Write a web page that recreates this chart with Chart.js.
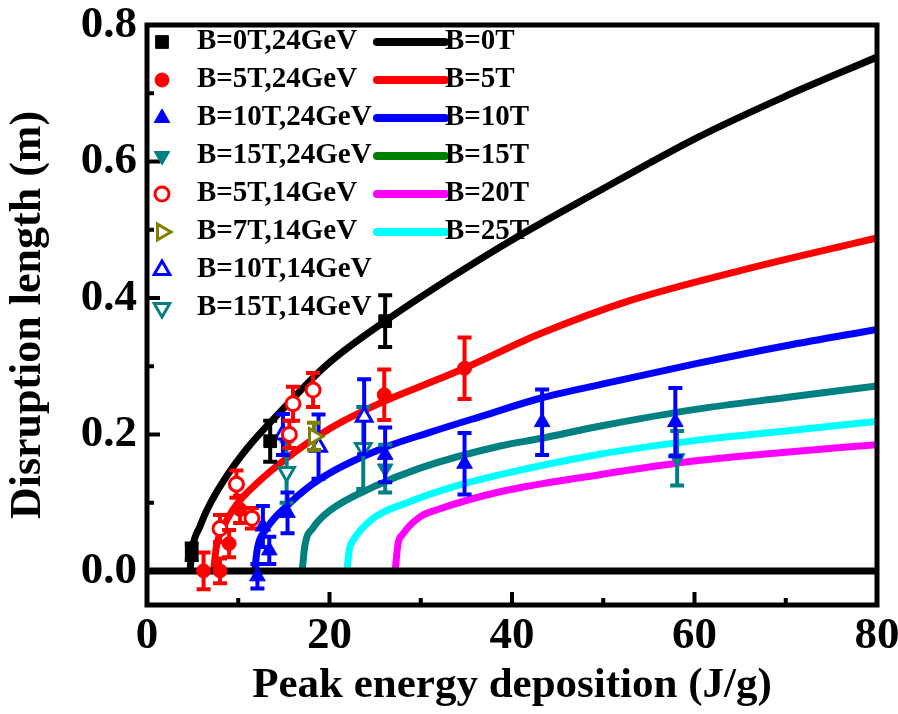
<!DOCTYPE html>
<html>
<head>
<meta charset="utf-8">
<script src="https://cdn.jsdelivr.net/npm/chart.js@4.4.0/dist/chart.umd.min.js"></script>
<style>
  html, body { margin: 0; padding: 0; background: #fff; }
  #wrap { width: 898px; height: 714px; }
</style>
</head>
<body>
<div id="wrap"><canvas id="c" width="898" height="714"></canvas></div>
<script>
// ---- measured disruption lengths (E in J/g, L in m, d = error) ----
const e0T24 = [4.9, 13.5, 26.1];
const l0T24 = [0.028, 0.19, 0.366];
const d0T24 = [0.012, 0.03, 0.038];

const e5T24 = [6.2, 8.0, 9.0, 10.2, 26.0, 34.8];
const l5T24 = [0.0, 0.0, 0.04, 0.09, 0.258, 0.297];
const d5T24 = [0.027, 0.018, 0.02, 0.02, 0.037, 0.045];

const e10T24 = [12.1, 12.7, 13.4, 15.4, 26.1, 34.8, 43.3, 57.9];
const l10T24 = [-0.008, 0.065, 0.03, 0.085, 0.17, 0.157, 0.218, 0.218];
const d10T24 = [0.018, 0.03, 0.02, 0.03, 0.04, 0.045, 0.048, 0.05];

const e15T24 = [26.1, 58.1];
const l15T24 = [0.15, 0.165];
const d15T24 = [0.035, 0.04];

const e5T14 = [8.0, 9.8, 11.5, 15.6, 16.0, 18.2];
const l5T14 = [0.062, 0.127, 0.077, 0.2, 0.245, 0.265];
const d5T14 = [0.02, 0.02, 0.015, 0.02, 0.025, 0.025];

const e7T14 = [18.3];
const l7T14 = [0.197];
const d7T14 = [0.02];

const e10T14 = [14.9, 18.8, 23.8];
const l10T14 = [0.2, 0.182, 0.226];
const d10T14 = [0.03, 0.047, 0.055];

const e15T14 = [15.3, 23.7];
const l15T14 = [0.145, 0.18];
const d15T14 = [0.045, 0.06];

// ---- model curves for each field strength ----
const c0E = [4.7, 5.0, 5.8, 6.6, 8.3, 11.0, 14.6, 19.7, 26.1, 33.2, 40.0, 48.5, 60.3, 69.7, 80.0];
const c0L = [0.0, 0.035, 0.065, 0.09, 0.13, 0.18, 0.233, 0.302, 0.366, 0.429, 0.485, 0.549, 0.635, 0.694, 0.753];

const c5E = [7.3, 7.6, 8.5, 9.8, 11.3, 15.3, 20.1, 25.9, 31.0, 34.8, 43.0, 52.9, 65.0, 80.0];
const c5L = [0.0, 0.035, 0.068, 0.097, 0.119, 0.165, 0.209, 0.248, 0.276, 0.297, 0.347, 0.396, 0.44, 0.488];

const c10E = [11.8, 12.1, 13.0, 15.7, 19.0, 25.9, 31.0, 37.0, 43.1, 50.0, 60.3, 70.0, 80.0];
const c10L = [0.0, 0.033, 0.06, 0.10, 0.135, 0.18, 0.203, 0.228, 0.253, 0.274, 0.304, 0.33, 0.354];

const c15E = [17.0, 17.3, 18.2, 20.0, 24.8, 30.0, 38.7, 43.1, 50.0, 60.3, 70.0, 80.0];
const c15L = [0.0, 0.037, 0.063, 0.088, 0.123, 0.151, 0.183, 0.194, 0.213, 0.237, 0.254, 0.271];

const c20E = [27.2, 27.5, 28.0, 29.9, 32.1, 38.7, 49.6, 60.6, 70.0, 80.0];
const c20L = [0.0, 0.039, 0.053, 0.079, 0.091, 0.116, 0.141, 0.162, 0.174, 0.185];

const c25E = [21.9, 22.2, 22.6, 24.8, 28.5, 33.0, 38.7, 49.6, 60.6, 70.0, 80.0];
const c25L = [0.0, 0.033, 0.045, 0.077, 0.10, 0.121, 0.141, 0.171, 0.192, 0.205, 0.219];

const baseE = [0, 80];
const baseL = [0, 0];

// ---- axis ticks ----
const xMajor = [20, 40, 60];
const xMinor = [10, 30, 50, 70];
const yMajor = [0.2, 0.4, 0.6];
const yMinor = [0.1, 0.3, 0.5, 0.7];
const yLabels = [0.0, 0.2, 0.4, 0.6, 0.8];
const xLabels = [0, 20, 40, 60, 80];

const SERIF = '"Liberation Serif", "Times New Roman", serif';
const pts = (xs, ys) => xs.map((x, i) => ({ x, y: ys[i] }));

function markerSet(label, xs, ys, errs, color, style, rotation, open) {
  return {
    label, data: pts(xs, ys), errors: errs,
    pointStyle: style, rotation: rotation,
    pointRadius: style === 'circle' ? 7 : 9,
    borderColor: color,
    backgroundColor: open ? '#fff' : color,
    pointBorderWidth: open ? 3 : 1,
    showLine: false, order: 0, isMarker: true
  };
}
function curveSet(label, xs, ys, color, swatch) {
  return {
    label, data: pts(xs, ys), showLine: true, pointRadius: 0,
    borderColor: color, backgroundColor: color, borderWidth: 7,
    cubicInterpolationMode: 'monotone', order: 3, isCurve: true,
    swatchColor: swatch || color
  };
}

const datasets = [
  markerSet('B=0T,24GeV', e0T24, l0T24, d0T24, '#000000', 'rect', 0, false),
  markerSet('B=5T,24GeV', e5T24, l5T24, d5T24, '#ff0000', 'circle', 0, false),
  markerSet('B=10T,24GeV', e10T24, l10T24, d10T24, '#0000ff', 'triangle', 0, false),
  markerSet('B=15T,24GeV', e15T24, l15T24, d15T24, '#008080', 'triangle', 180, false),
  markerSet('B=5T,14GeV', e5T14, l5T14, d5T14, '#ff0000', 'circle', 0, true),
  markerSet('B=7T,14GeV', e7T14, l7T14, d7T14, '#808000', 'triangle', 90, true),
  markerSet('B=10T,14GeV', e10T14, l10T14, d10T14, '#0000ff', 'triangle', 0, true),
  markerSet('B=15T,14GeV', e15T14, l15T14, d15T14, '#008080', 'triangle', 180, true),
  { label: 'zero', data: pts(baseE, baseL), showLine: true, pointRadius: 0,
    borderColor: '#000', borderWidth: 7, order: 2 },
  curveSet('B=0T', c0E, c0L, '#000000'),
  curveSet('B=5T', c5E, c5L, '#ff0000'),
  curveSet('B=10T', c10E, c10L, '#0000ff'),
  curveSet('B=15T', c15E, c15L, '#008080', '#008000'),
  curveSet('B=20T', c20E, c20L, '#ff00ff'),
  curveSet('B=25T', c25E, c25L, '#00ffff')
];

// vertical error bars drawn just beneath each marker series
const errorBars = {
  id: 'errorBars',
  beforeDatasetDraw(chart, args) {
    const ds = chart.data.datasets[args.index];
    if (!ds.errors) return;
    const y = chart.scales.y, ctx = chart.ctx;
    ctx.save();
    ctx.strokeStyle = ds.borderColor;
    ctx.lineWidth = 4;
    args.meta.data.forEach((el, i) => {
      const v = ds.data[i].y, e = ds.errors[i];
      const yt = y.getPixelForValue(v + e), yb = y.getPixelForValue(v - e);
      ctx.beginPath();
      ctx.moveTo(el.x, yt); ctx.lineTo(el.x, yb);
      ctx.moveTo(el.x - 7, yt); ctx.lineTo(el.x + 7, yt);
      ctx.moveTo(el.x - 7, yb); ctx.lineTo(el.x + 7, yb);
      ctx.stroke();
    });
    ctx.restore();
  }
};

// plot frame with inward major/minor ticks
const frameTicks = {
  id: 'frameTicks',
  afterDatasetsDraw(chart) {
    const { ctx, chartArea: a, scales: { x, y } } = chart;
    ctx.save();
    ctx.strokeStyle = '#000';
    ctx.lineWidth = 5;
    ctx.strokeRect(a.left, a.top, a.right - a.left, a.bottom - a.top);
    ctx.lineWidth = 4;
    ctx.beginPath();
    xMajor.forEach(v => { const p = x.getPixelForValue(v); ctx.moveTo(p, a.bottom); ctx.lineTo(p, a.bottom - 13); });
    xMinor.forEach(v => { const p = x.getPixelForValue(v); ctx.moveTo(p, a.bottom); ctx.lineTo(p, a.bottom - 7); });
    yMajor.forEach(v => { const p = y.getPixelForValue(v); ctx.moveTo(a.left, p); ctx.lineTo(a.left + 13, p); });
    yMinor.forEach(v => { const p = y.getPixelForValue(v); ctx.moveTo(a.left, p); ctx.lineTo(a.left + 7, p); });
    ctx.stroke();
    ctx.restore();
  }
};

// two-column legend inside the plot
const legendBox = {
  id: 'legendBox',
  afterDraw(chart) {
    const ctx = chart.ctx, a = chart.chartArea;
    const markers = chart.data.datasets.filter(d => d.isMarker);
    const curves = chart.data.datasets.filter(d => d.isCurve);
    const rowY = i => a.top + 17 + i * 38;
    ctx.save();
    ctx.font = 'bold 29px ' + SERIF;
    ctx.textBaseline = 'middle';
    ctx.fillStyle = '#000';
    markers.forEach((d, i) => {
      const yy = rowY(i);
      ctx.save();
      ctx.fillStyle = d.backgroundColor;
      ctx.strokeStyle = d.borderColor;
      ctx.lineWidth = d.pointBorderWidth;
      Chart.helpers.drawPoint(ctx, {
        pointStyle: d.pointStyle, rotation: d.rotation,
        radius: d.pointRadius, borderWidth: d.pointBorderWidth
      }, a.left + 15, yy);
      ctx.restore();
      ctx.fillText(d.label, a.left + 50, yy);
    });
    curves.forEach((d, i) => {
      const yy = rowY(i);
      ctx.save();
      ctx.strokeStyle = d.swatchColor;
      ctx.lineWidth = 8;
      ctx.lineCap = 'round';
      ctx.beginPath();
      ctx.moveTo(a.left + 230, yy); ctx.lineTo(a.left + 298, yy);
      ctx.stroke();
      ctx.restore();
      ctx.fillText(d.label, a.left + 298, yy);
    });
    ctx.restore();
  }
};

new Chart(document.getElementById('c'), {
  type: 'scatter',
  data: { datasets },
  options: {
    responsive: false,
    animation: false,
    devicePixelRatio: 1,
    layout: { padding: { top: 25, right: 21, bottom: 2, left: 0 } },
    plugins: { legend: { display: false }, tooltip: { enabled: false } },
    scales: {
      x: {
        type: 'linear', min: 0, max: 80,
        afterFit: s => { s.height = 107; s.paddingLeft = 0; s.paddingRight = 0; },
        afterBuildTicks: s => { s.ticks = xLabels.map(v => ({ value: v })); },
        grid: { display: false, drawTicks: false },
        border: { display: false },
        ticks: {
          color: '#000', padding: 4, maxRotation: 0, autoSkip: false,
          font: { family: SERIF, size: 45, weight: 'bold' },
          callback: v => String(v)
        },
        title: {
          display: true, text: 'Peak energy deposition (J/g)', color: '#000',
          font: { family: SERIF, size: 43, weight: 'bold' },
          padding: { top: 0, bottom: 0 }
        }
      },
      y: {
        type: 'linear', min: -0.05, max: 0.8,
        afterFit: s => { s.width = 147; s.paddingTop = 0; s.paddingBottom = 0; },
        afterBuildTicks: s => { s.ticks = yLabels.map(v => ({ value: v })); },
        grid: { display: false, drawTicks: false },
        border: { display: false },
        ticks: {
          color: '#000', padding: 10, autoSkip: false,
          font: { family: SERIF, size: 45, weight: 'bold' },
          callback: v => Number(v).toFixed(1)
        },
        title: {
          display: true, text: 'Disruption length (m)', color: '#000',
          font: { family: SERIF, size: 44, weight: 'bold' },
          padding: { top: 2, bottom: 0 }
        }
      }
    }
  },
  plugins: [errorBars, frameTicks, legendBox]
});
</script>
</body>
</html>
